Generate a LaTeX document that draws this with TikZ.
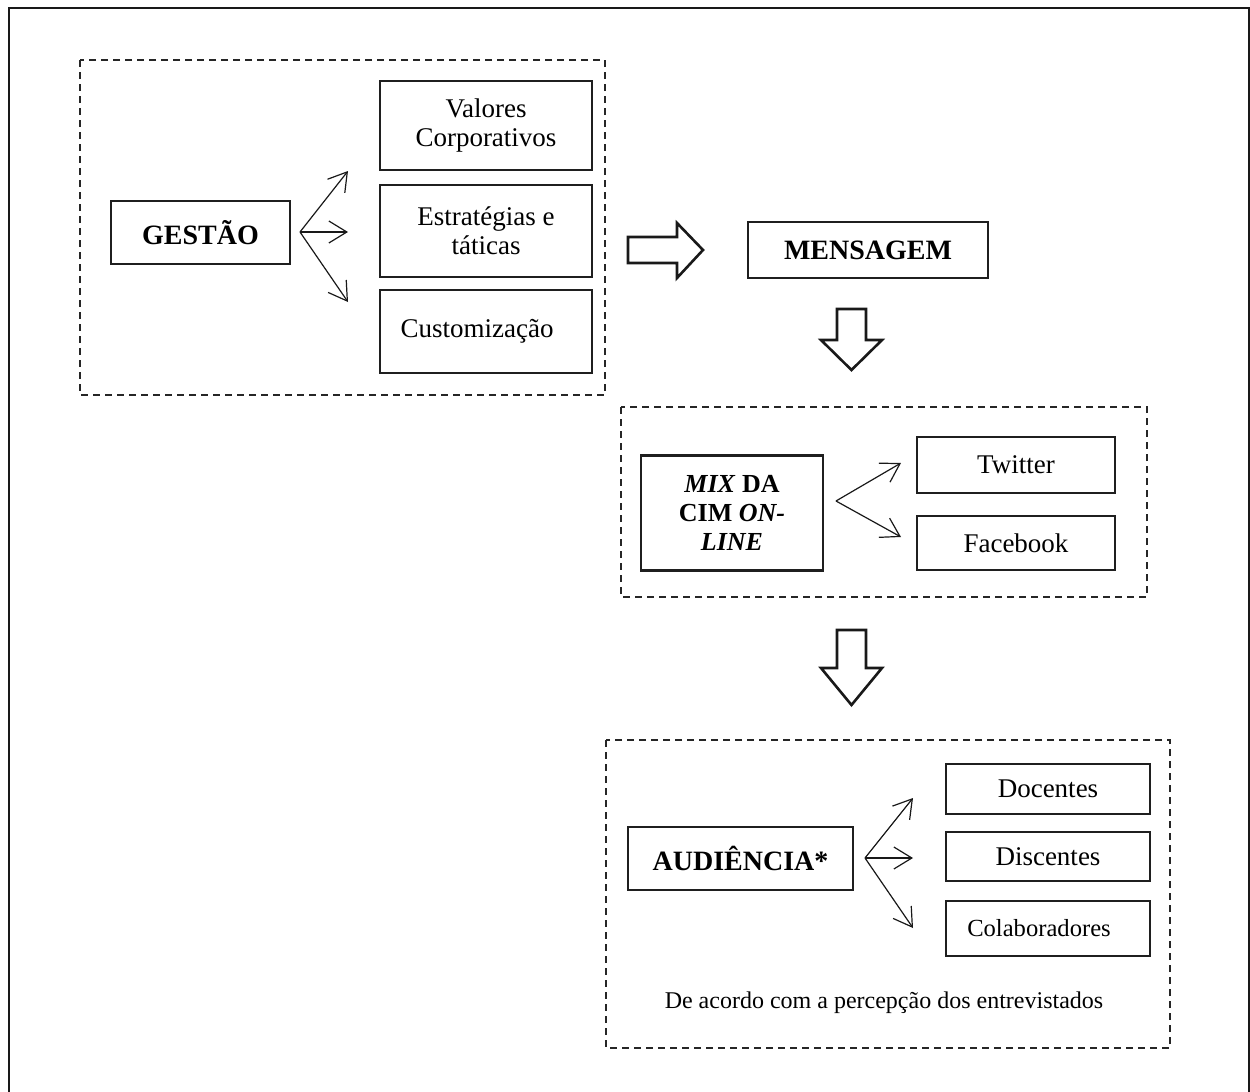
\documentclass[tikz,border=0pt]{standalone}
\usepackage{fontspec}
\setmainfont{Liberation Serif}
\usetikzlibrary{arrows.meta}
\tikzset{
  px/.style={x=0.5pt,y=-0.5pt},
  solidbox/.style={draw=black!88,line width=1.3pt,inner sep=2pt,align=center,font=\fontsize{13.5}{14.5}\selectfont},
  boldbox/.style={solidbox,font=\fontsize{14}{16}\selectfont\bfseries},
  groupbox/.style={draw=black!85,line width=1pt,dash pattern=on 3.5pt off 2.5pt},
  fan/.style={draw=black!90,line width=0.6pt,-{Straight Barb[length=9pt,width=11pt,line width=0.6pt]}},
  blockarrow/.style={draw=black!90,line width=1.3pt,line join=miter,fill=white},
  frame/.style={draw=black!90,line width=1.4pt}
}
\begin{document}
\begin{tikzpicture}[px]
\useasboundingbox (0,0) rectangle (1250,1092);
% outer frame (open at the bottom)
\draw[frame] (9,1092) -- (9,8) -- (1249,8) -- (1249,1092);

% ---------- group 1 ----------
\draw[groupbox] (80,60) rectangle (605,395);
\node[boldbox,minimum width=89.5pt,minimum height=31.5pt] (gestao) at (200.5,232.5) {GESTÃO};
\node[solidbox,minimum width=106pt,minimum height=44.5pt] (valores) at (486,125.5) {Valores\\Corporativos};
\node[solidbox,minimum width=106pt,minimum height=46pt] (estrat) at (486,231) {Estratégias e\\táticas};
\node[solidbox,minimum width=106pt,minimum height=41.5pt] (custom) at (486,331.5) {Customização\hspace*{9pt}};
\coordinate (g0) at (300,232);
\coordinate (g1) at (348,171);
\coordinate (g2) at (348,232);
\coordinate (g3) at (348,302);
\draw[fan] (g0) -- (g1);
\draw[fan] (g0) -- (g2);
\draw[fan] (g0) -- (g3);

% block arrow right
\draw[blockarrow] (628,237) -- (677,237) -- (677,223) -- (703,250) -- (677,278) -- (677,263) -- (628,263) -- cycle;

\node[boldbox,minimum width=120pt,minimum height=28pt] (mensagem) at (868,250) {MENSAGEM};

% block arrow down 1
\draw[blockarrow] (837,309) -- (866,309) -- (866,340) -- (882,340) -- (851.5,370) -- (821,340) -- (837,340) -- cycle;

% ---------- group 2 ----------
\draw[groupbox] (621,407) rectangle (1147,597);
\node[solidbox,font=\fontsize{13}{14.5}\selectfont\bfseries,minimum width=91pt,minimum height=57.5pt] (mix) at (732,513) {\textit{MIX} DA\\CIM \textit{ON-}\\\textit{LINE}};
\node[solidbox,minimum width=99pt,minimum height=28pt] (twitter) at (1016,465) {Twitter};
\node[solidbox,minimum width=99pt,minimum height=27pt] (facebook) at (1016,543) {Facebook};
\coordinate (m0) at (836,501);
\coordinate (m1) at (901,463);
\coordinate (m2) at (901,537);
\draw[fan] (m0) -- (m1);
\draw[fan] (m0) -- (m2);

% block arrow down 2
\draw[blockarrow] (837,630) -- (866,630) -- (866,668) -- (882,668) -- (851.5,705) -- (821,668) -- (837,668) -- cycle;

% ---------- group 3 ----------
\draw[groupbox] (606,740) rectangle (1170,1048);
\node[boldbox,minimum width=112.5pt,minimum height=31.5pt] (audiencia) at (740.5,858.5) {AUDIÊNCIA*};
\node[solidbox,minimum width=102pt,minimum height=25pt] (docentes) at (1048,789) {Docentes};
\node[solidbox,minimum width=102pt,minimum height=24.5pt] (discentes) at (1048,856.5) {Discentes};
\node[solidbox,font=\fontsize{12.3}{14}\selectfont,minimum width=102pt,minimum height=27.5pt] (colab) at (1048,928.5) {Colaboradores\hspace*{9pt}};
\coordinate (a0) at (865,858);
\coordinate (a1) at (913,798);
\coordinate (a2) at (913,858);
\coordinate (a3) at (913,928);
\draw[fan] (a0) -- (a1);
\draw[fan] (a0) -- (a2);
\draw[fan] (a0) -- (a3);
\node[font=\fontsize{12}{14}\selectfont,inner sep=0pt] (nota) at (884,1003) {De acordo com a percepção dos entrevistados};
\end{tikzpicture}
\end{document}
